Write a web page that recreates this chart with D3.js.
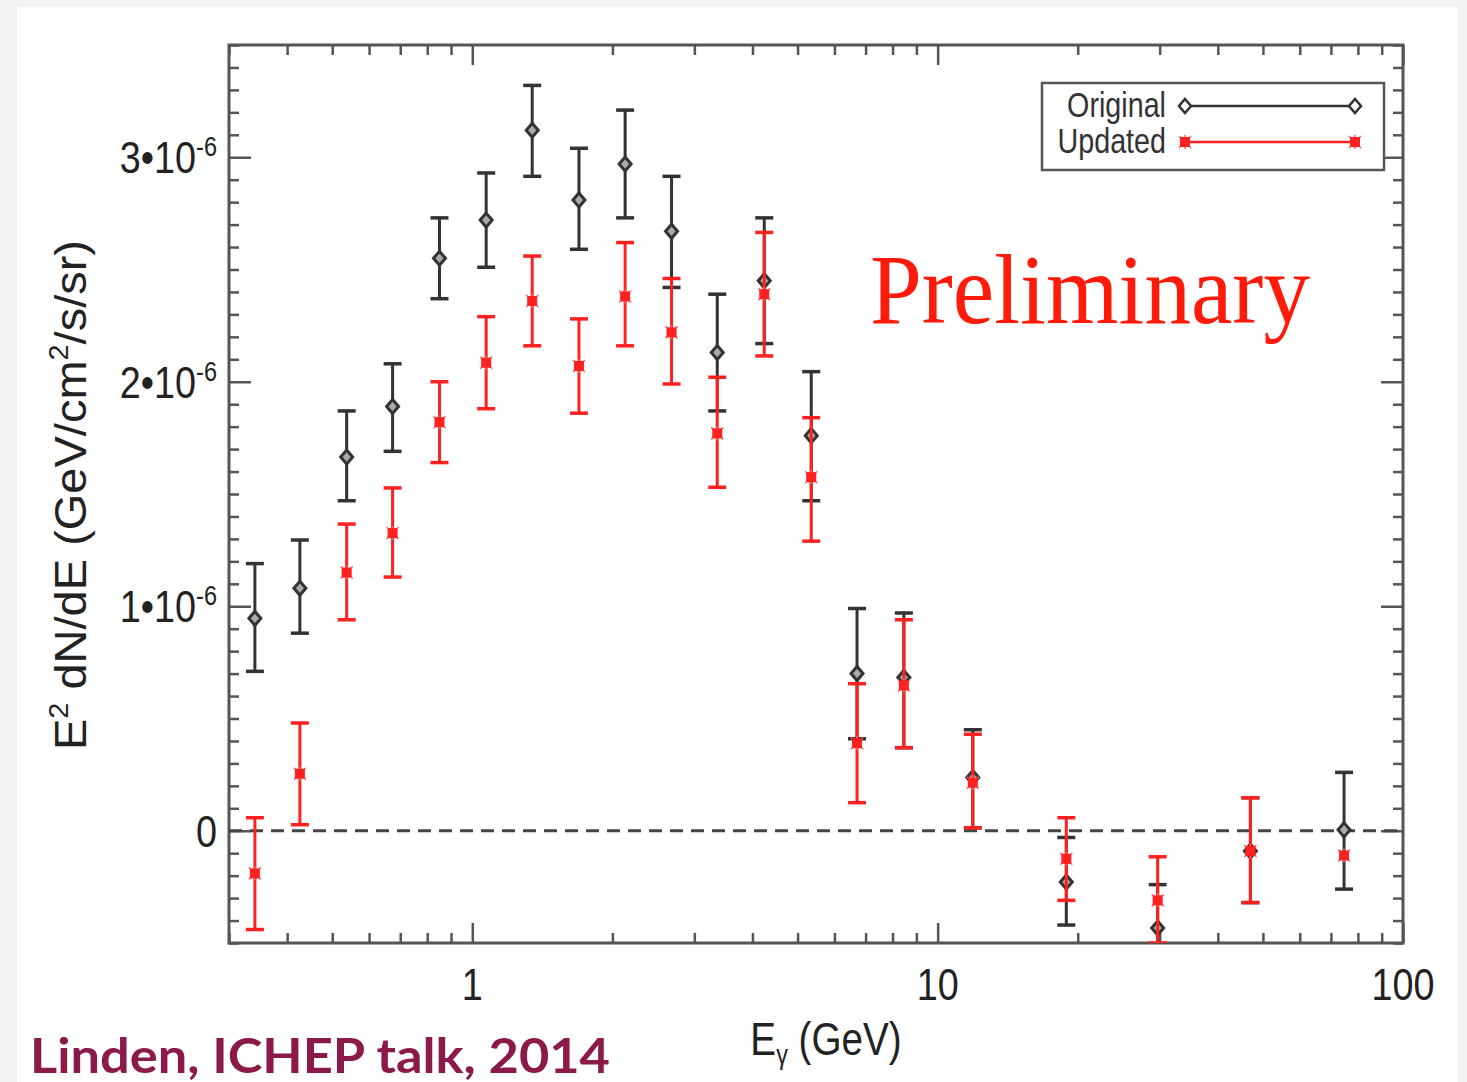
<!DOCTYPE html>
<html>
<head>
<meta charset="utf-8">
<script src="https://cdn.jsdelivr.net/npm/d3@7"></script>
<style>
  html, body { margin: 0; padding: 0; background: #f2f2f2; }
  svg { display: block; }
</style>
</head>
<body>
<div id="chart"></div>
<script>
// bin centres (GeV) and E^2 dN/dE values in units of 1e-6 GeV/cm^2/s/sr
const energy = [0.341, 0.426, 0.537, 0.674, 0.850, 1.071, 1.345, 1.695, 2.13, 2.68,
                3.36, 4.24, 5.35, 6.71, 8.46, 11.9, 18.9, 29.7, 47.0, 74.7]

const original   = [0.946, 1.08, 1.665, 1.89, 2.55, 2.72, 3.12, 2.81, 2.97, 2.67,
                    2.13, 2.45, 1.76, 0.70, 0.683, 0.237, -0.228, -0.433, -0.09, 0.004]
const originalLo = [0.71, 0.88, 1.47, 1.69, 2.37, 2.51, 2.915, 2.59, 2.73, 2.42,
                    1.87, 2.17, 1.47, 0.41, 0.37, 0.013, -0.42, -0.63, -0.32, -0.26]
const originalHi = [1.19, 1.295, 1.87, 2.08, 2.73, 2.93, 3.32, 3.04, 3.21, 2.915,
                    2.39, 2.73, 2.045, 0.99, 0.97, 0.45, -0.03, -0.24, 0.147, 0.26]

const updated   = [-0.19, 0.254, 1.15, 1.326, 1.82, 2.085, 2.36, 2.07, 2.38, 2.22,
                   1.77, 2.39, 1.575, 0.39, 0.647, 0.214, -0.125, -0.31, -0.09, -0.11]
const updatedLo = [-0.44, 0.027, 0.94, 1.13, 1.64, 1.88, 2.16, 1.86, 2.16, 1.99,
                   1.53, 2.115, 1.29, 0.125, 0.37, 0.013, -0.31, -0.5, -0.32, -0.11]
const updatedHi = [0.058, 0.48, 1.366, 1.527, 2.0, 2.29, 2.56, 2.28, 2.62, 2.46,
                   2.02, 2.665, 1.84, 0.655, 0.94, 0.43, 0.058, -0.116, 0.147, -0.11]

const xMajor = [1, 10, 100]
const xMajorLabels = ["1", "10", "100"]
const yMajor = [0, 1, 2, 3]
const yMajorLabels = ["0", "1\u202210", "2\u202210", "3\u202210"]
const seriesNames = ["Original", "Updated"]

const W = 1467, H = 1082
const margin = {left: 229, right: 1403, top: 45, bottom: 943}
const squeeze = 0.84   // the picture's text is horizontally condensed
const black = "#333", red = "#ff2020"

const svg = d3.select("#chart").append("svg")
    .attr("width", W).attr("height", H)

// white slide panel
svg.append("rect").attr("x", 17).attr("y", 7).attr("width", 1440).attr("height", H - 7)
    .attr("fill", "#fff")

const x = d3.scaleLog().domain([0.3, 100]).range([margin.left, margin.right])
const y = d3.scaleLinear().domain([-0.5, 3.5]).range([margin.bottom, margin.top])

svg.append("defs").append("clipPath").attr("id", "plotclip")
    .append("rect").attr("x", margin.left).attr("y", margin.top)
    .attr("width", margin.right - margin.left).attr("height", margin.bottom - margin.top)

// minor tick values
let xMinor = []
;[0.1, 1, 10].forEach(d => { for (let k = 2; k <= 9; k++) { const v = d * k; if (v >= 0.3 && v < 100) xMinor.push(v) } })
const yMinor = d3.range(-5, 36).map(d => d / 10).filter(v => yMajor.indexOf(v) < 0)

const axisStyle = g => {
    g.select(".domain").remove()
    g.selectAll("line").attr("stroke", "#555").attr("stroke-width", 2.5)
    g.selectAll("text").remove()
}

svg.append("g").attr("transform", `translate(0,${margin.bottom})`)
    .call(d3.axisBottom(x).tickValues(xMinor).tickSize(-10)).call(axisStyle)
svg.append("g").attr("transform", `translate(0,${margin.bottom})`)
    .call(d3.axisBottom(x).tickValues(xMajor).tickSize(-20)).call(axisStyle)
svg.append("g").attr("transform", `translate(0,${margin.top})`)
    .call(d3.axisTop(x).tickValues(xMinor).tickSize(-10)).call(axisStyle)
svg.append("g").attr("transform", `translate(0,${margin.top})`)
    .call(d3.axisTop(x).tickValues(xMajor).tickSize(-20)).call(axisStyle)

svg.append("g").attr("transform", `translate(${margin.left},0)`)
    .call(d3.axisLeft(y).tickValues(yMinor).tickSize(-10)).call(axisStyle)
svg.append("g").attr("transform", `translate(${margin.left},0)`)
    .call(d3.axisLeft(y).tickValues(yMajor).tickSize(-22)).call(axisStyle)
svg.append("g").attr("transform", `translate(${margin.right},0)`)
    .call(d3.axisRight(y).tickValues(yMinor).tickSize(-10)).call(axisStyle)
svg.append("g").attr("transform", `translate(${margin.right},0)`)
    .call(d3.axisRight(y).tickValues(yMajor).tickSize(-22)).call(axisStyle)

// frame
svg.append("rect").attr("x", margin.left).attr("y", margin.top)
    .attr("width", margin.right - margin.left).attr("height", margin.bottom - margin.top)
    .attr("fill", "none").attr("stroke", "#555").attr("stroke-width", 3)

// x tick labels
svg.selectAll(".xlab").data(xMajor).enter().append("text")
    .attr("class", "xlab")
    .attr("transform", d => `translate(${x(d)},${margin.bottom + 57}) scale(${squeeze},1)`)
    .attr("text-anchor", "middle")
    .attr("font-family", "Liberation Sans, Arial, sans-serif")
    .attr("font-size", 45).attr("fill", "#222")
    .text((d, i) => xMajorLabels[i])

// y tick labels with superscript exponent
yMajor.forEach((v, i) => {
    const t = svg.append("text")
        .attr("transform", `translate(${margin.left - 12},${y(v) + 16}) scale(${squeeze},1)`)
        .attr("text-anchor", "end")
        .attr("font-family", "Liberation Sans, Arial, sans-serif")
        .attr("font-size", 45).attr("fill", "#222")
    t.append("tspan").text(yMajorLabels[i])
    if (v !== 0) t.append("tspan").attr("font-size", 28).attr("dy", -17).text("-6")
})

// axis titles
const xt = svg.append("text")
    .attr("transform", `translate(826,1055) scale(${squeeze},1)`)
    .attr("text-anchor", "middle")
    .attr("font-family", "Liberation Sans, Arial, sans-serif")
    .attr("font-size", 46).attr("fill", "#222")
xt.append("tspan").text("E")
xt.append("tspan").attr("font-size", 28).attr("dy", 9).text("\u03b3")
xt.append("tspan").attr("dy", -9).text(" (GeV)")

const yt = svg.append("text")
    .attr("transform", `translate(86,495) rotate(-90)`)
    .attr("text-anchor", "middle")
    .attr("font-family", "Liberation Sans, Arial, sans-serif")
    .attr("font-size", 44).attr("fill", "#222")
    .attr("textLength", 510).attr("lengthAdjust", "spacingAndGlyphs")
yt.append("tspan").text("E")
yt.append("tspan").attr("font-size", 27).attr("dy", -18).text("2")
yt.append("tspan").attr("dy", 18).text(" dN/dE (GeV/cm")
yt.append("tspan").attr("font-size", 27).attr("dy", -18).text("2")
yt.append("tspan").attr("dy", 18).text("/s/sr)")

// zero line
svg.append("line")
    .attr("x1", margin.left).attr("x2", margin.right).attr("y1", y(0)).attr("y2", y(0))
    .attr("stroke", "#444").attr("stroke-width", 3).attr("stroke-dasharray", "13,8")

// data
const plot = svg.append("g").attr("clip-path", "url(#plotclip)")

const drawSeries = (vals, lo, hi, color, cls) => {
    const g = plot.append("g").attr("class", cls)
    const rows = energy.map((e, i) => ({e, v: vals[i], lo: lo[i], hi: hi[i]}))
    const bars = rows.filter(d => d.hi !== d.lo)
    g.selectAll("line.err").data(bars).enter().append("line")
        .attr("class", "err")
        .attr("x1", d => x(d.e)).attr("x2", d => x(d.e))
        .attr("y1", d => y(d.lo)).attr("y2", d => y(d.hi))
        .attr("stroke", color).attr("stroke-width", 3)
    ;["lo", "hi"].forEach(k => {
        g.selectAll("line.cap" + k).data(bars).enter().append("line")
            .attr("class", "cap" + k)
            .attr("x1", d => x(d.e) - 9).attr("x2", d => x(d.e) + 9)
            .attr("y1", d => y(d[k])).attr("y2", d => y(d[k]))
            .attr("stroke", color).attr("stroke-width", 3.5)
    })
    return {g, rows}
}

const diamond = (cx, cy) => `M${cx},${cy - 7}L${cx + 6},${cy}L${cx},${cy + 7}L${cx - 6},${cy}Z`
const star = (cx, cy) => `M${cx - 6},${cy - 6}L${cx + 6},${cy + 6}M${cx - 6},${cy + 6}L${cx + 6},${cy - 6}M${cx},${cy - 7}L${cx},${cy + 7}`

const s1 = drawSeries(original, originalLo, originalHi, black, "orig")
s1.g.selectAll("path.pt").data(s1.rows).enter().append("path")
    .attr("class", "pt")
    .attr("d", d => diamond(x(d.e), y(d.v)))
    .attr("fill", "#aaa").attr("stroke", black).attr("stroke-width", 3)

const s2 = drawSeries(updated, updatedLo, updatedHi, red, "upd")
s2.g.selectAll("path.st").data(s2.rows).enter().append("path")
    .attr("class", "st")
    .attr("d", d => star(x(d.e), y(d.v)))
    .attr("stroke", "#ff6060").attr("stroke-width", 1.5)
s2.g.selectAll("rect.pt").data(s2.rows).enter().append("rect")
    .attr("class", "pt")
    .attr("x", d => x(d.e) - 5).attr("y", d => y(d.v) - 5)
    .attr("width", 10).attr("height", 10)
    .attr("fill", red)

// legend
const lg = svg.append("g")
lg.append("rect").attr("x", 1042).attr("y", 83).attr("width", 342).attr("height", 87)
    .attr("fill", "#fff").attr("stroke", "#555").attr("stroke-width", 2.5)
const legendRows = [
    {name: seriesNames[0], yy: 106, color: black},
    {name: seriesNames[1], yy: 142, color: red}
]
legendRows.forEach((r, i) => {
    lg.append("text")
        .attr("transform", `translate(1166,${r.yy + 11}) scale(0.82,1)`)
        .attr("text-anchor", "end")
        .attr("font-family", "Liberation Sans, Arial, sans-serif")
        .attr("font-size", 35).attr("fill", "#333")
        .text(r.name)
    lg.append("line").attr("x1", 1185).attr("x2", 1355).attr("y1", r.yy).attr("y2", r.yy)
        .attr("stroke", r.color).attr("stroke-width", 2.5)
    ;[1185, 1355].forEach(cx => {
        if (i === 0) {
            lg.append("path").attr("d", diamond(cx, r.yy))
                .attr("fill", "#fff").attr("stroke", black).attr("stroke-width", 2.5)
        } else {
            lg.append("path").attr("d", star(cx, r.yy)).attr("stroke", "#ff6060").attr("stroke-width", 1.5)
            lg.append("rect").attr("x", cx - 5).attr("y", r.yy - 5).attr("width", 10).attr("height", 10)
                .attr("fill", red)
        }
    })
})

// Preliminary stamp
svg.append("text")
    .attr("x", 870).attr("y", 323)
    .attr("font-family", "Liberation Serif, Times New Roman, serif")
    .attr("font-size", 100).attr("fill", "#ff1a0a")
    .attr("textLength", 440).attr("lengthAdjust", "spacingAndGlyphs")
    .text("Preliminary")

// citation
svg.append("text")
    .attr("x", 30).attr("y", 1073)
    .attr("font-family", "Lato, Open Sans, sans-serif")
    .attr("font-weight", 700)
    .attr("font-size", 47).attr("fill", "#8b1a4b")
    .attr("textLength", 580).attr("lengthAdjust", "spacingAndGlyphs")
    .text("Linden, ICHEP talk, 2014")
</script>
</body>
</html>
